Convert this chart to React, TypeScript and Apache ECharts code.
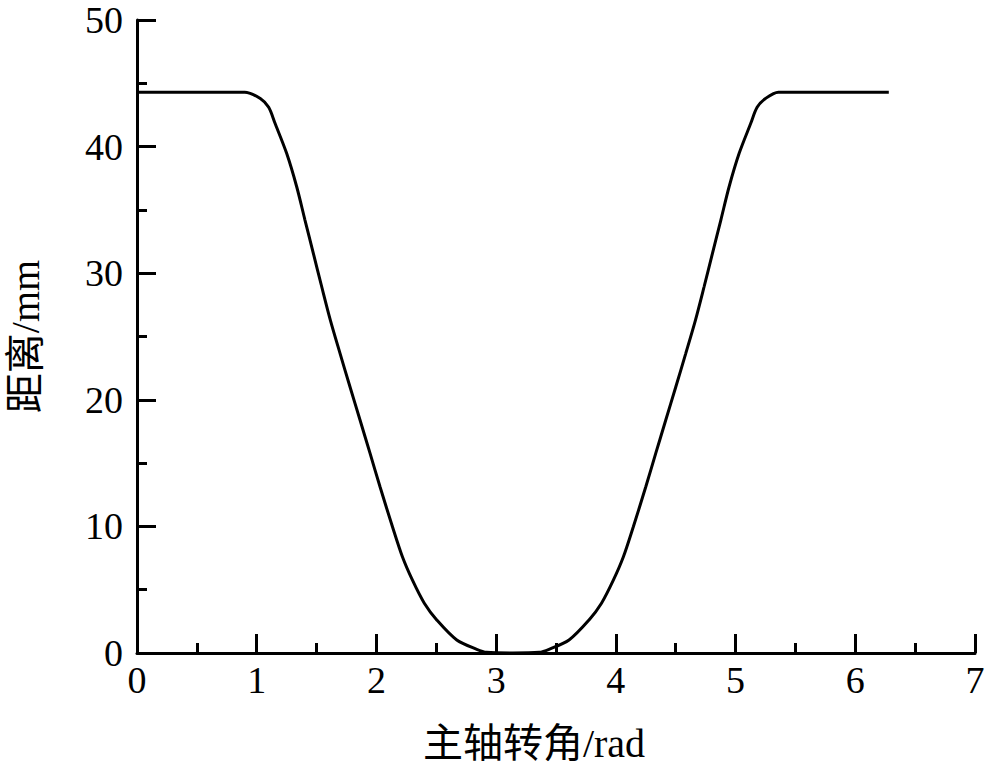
import React, { useEffect, useRef } from "react";
import * as echarts from "echarts";

const angles = [
  0, 0.90, 1.03, 1.10, 1.153, 1.250, 1.334, 1.403, 1.473, 1.543, 1.615, 1.696, 1.779, 1.863, 1.947, 2.030,
  2.134, 2.217, 2.30, 2.40, 2.504, 2.671, 2.838, 2.92, 3.14, 3.36, 3.442, 3.609, 3.776, 3.88, 3.98, 4.063,
  4.146, 4.25, 4.333, 4.417, 4.501, 4.584, 4.665, 4.737, 4.807, 4.877, 4.946, 5.03, 5.127, 5.18, 5.25, 5.358, 6.28,
];
const distances = [
  44.3, 44.3, 43.8, 43.1, 41.84, 39.47, 36.83, 34.2, 31.57, 28.93, 26.3, 23.67, 21.03, 18.4, 15.77, 13.13,
  9.97, 7.6, 5.77, 3.93, 2.61, 1.03, 0.29, 0.05, 0, 0.05, 0.29, 1.03, 2.61, 3.93, 5.77, 7.6,
  9.97, 13.13, 15.77, 18.4, 21.03, 23.67, 26.3, 28.93, 31.57, 34.2, 36.83, 39.47, 41.84, 43.1, 43.8, 44.3, 44.3,
];

const xAxisName = "主轴转角/rad";
const yAxisName = "距离/mm";

const FONT = "'Liberation Serif', 'Noto Sans CJK SC', serif";

export default function App() {
  const ref = useRef<HTMLDivElement>(null);
  useEffect(() => {
    document.body.style.margin = "0";
    const chart = echarts.init(ref.current!, null, { renderer: "svg" });
    const axisCommon = {
      axisLine: { show: true, onZero: false, lineStyle: { color: "#000", width: 3 } },
      axisTick: { show: true, inside: true, length: 19, lineStyle: { color: "#000", width: 3 } },
      minorTick: { show: true, splitNumber: 2, length: 10, lineStyle: { color: "#000", width: 3 } },
      splitLine: { show: false },
      minorSplitLine: { show: false },
    };
    chart.setOption({
      animation: false,
      backgroundColor: "#fff",
      grid: { left: 137, right: 25, top: 20, bottom: 118, containLabel: false, outerBoundsMode: "none" },
      xAxis: {
        type: "value",
        min: 0,
        max: 7,
        interval: 1,
        ...axisCommon,
        axisLabel: { color: "#000", fontSize: 38, fontFamily: FONT, margin: 8 },
        name: xAxisName,
        nameLocation: "middle",
        nameGap: 70,
        nameTextStyle: { color: "#000", fontSize: 40, fontFamily: FONT, padding: [0, 44, 0, 0] },
      },
      yAxis: {
        type: "value",
        min: 0,
        max: 50,
        interval: 10,
        ...axisCommon,
        axisLabel: { color: "#000", fontSize: 38, fontFamily: FONT, margin: 14 },
        name: yAxisName,
        nameLocation: "middle",
        nameGap: 92,
        nameTextStyle: { color: "#000", fontSize: 40, fontFamily: FONT },
      },
      series: [
        {
          type: "line",
          data: angles.map((a, i) => [a, distances[i]]),
          showSymbol: false,
          smooth: 0.3,
          lineStyle: { color: "#000", width: 3 },
        },
      ],
    });
    return () => chart.dispose();
  }, []);
  return <div ref={ref} style={{ width: 1000, height: 771 }} />;
}
